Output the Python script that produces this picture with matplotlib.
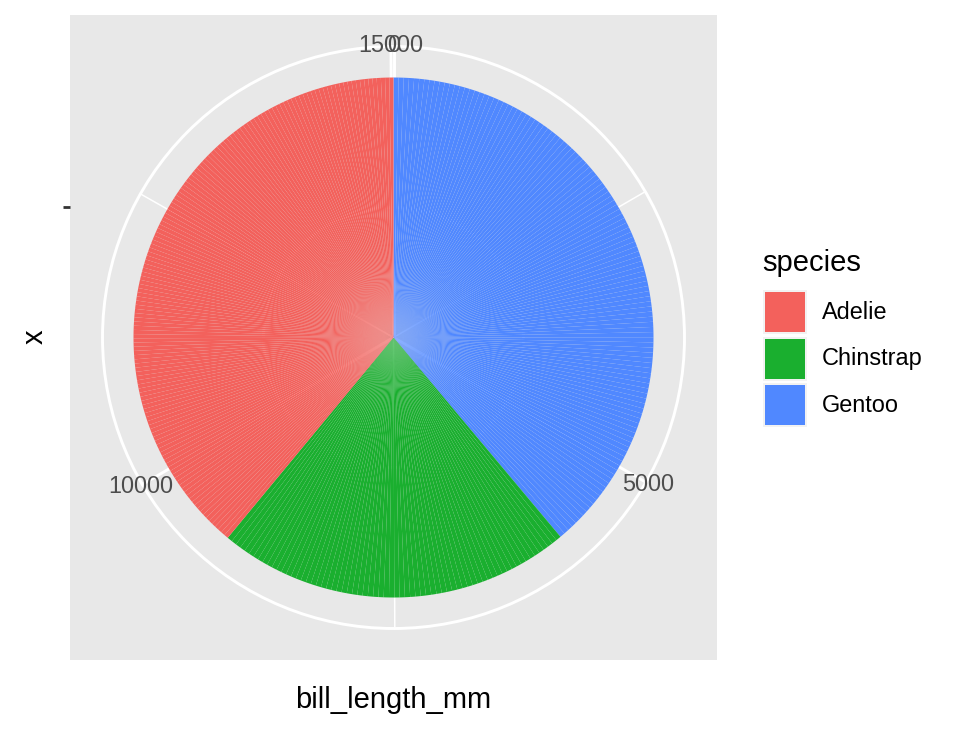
import matplotlib.pyplot as plt
from matplotlib.patches import Wedge, Circle, Rectangle
from matplotlib.lines import Line2D
import numpy as np

plt.rcParams['font.family'] = ['Liberation Sans', 'DejaVu Sans']

# penguins: number of birds and summed bill length per species
species = ['Adelie', 'Chinstrap', 'Gentoo']
counts = [151, 68, 123]
bill_length_sum = [5857.5, 3320.7, 5843.1]
colors = ['#F3615C', '#1AAF2F', '#5088FF']
theta_breaks = [0, 5000, 10000, 15000]
theta_minor = [2500, 7500, 12500]

W, H = 960, 729
fig = plt.figure(figsize=(9.6, 7.29), dpi=100)


def fx(px):
    return px / W


def fy(py):
    return 1 - py / H


# panel in pixel units, pie centred at 0,0
ax = fig.add_axes([fx(70), fy(660), fx(717) - fx(70), fy(15) - fy(660)])
ax.set_facecolor('#E8E8E8')
ax.set_xlim(-323.5, 323.5)
ax.set_ylim(-322.5, 322.5)
for s in ax.spines.values():
    s.set_visible(False)
ax.set_xticks([])
ax.set_yticks([])

R_PIE = 260
R_OUT = 291
total = sum(bill_length_sum)


def ang(v):
    # clockwise from north, in maths degrees
    return 90 - 360 * v / total


# grid
for v in theta_minor:
    a = np.radians(ang(v))
    ax.plot([0, R_OUT * np.cos(a)], [0, R_OUT * np.sin(a)], color='white', lw=1.1, zorder=1)
for v in theta_breaks:
    a = np.radians(ang(v))
    ax.plot([0, R_OUT * np.cos(a)], [0, R_OUT * np.sin(a)], color='white', lw=2.1, zorder=1)
ax.add_patch(Circle((0, 0), R_OUT, fill=False, ec='white', lw=2.1, zorder=1))
ax.add_patch(Circle((0, 0), R_PIE / 2, fill=False, ec='white', lw=2.1, zorder=1))

# stacked bars -> pie (Gentoo at the bottom of the stack)
cum = 0.0
for i in [2, 1, 0]:
    seg = bill_length_sum[i] / counts[i]
    for k in range(counts[i]):
        ax.add_patch(Wedge((0, 0), R_PIE, ang(cum + seg), ang(cum), fc=colors[i],
                           lw=0, antialiased=True, zorder=2))
        cum += seg

# theta labels
for v in theta_breaks:
    a = np.radians(ang(v))
    ax.text(293 * np.cos(a), 293 * np.sin(a) - 1, str(v), ha='center', va='center',
            fontsize=16.9, color='#4D4D4D', zorder=3)

# r axis tick (empty label)
fig.add_artist(Line2D([fx(63), fx(70)], [fy(207), fy(207)], color='#333333', lw=2.0,
                      solid_capstyle='butt'))

# axis titles
fig.text(fx(393.5), fy(700), 'bill_length_mm', ha='center', va='center', fontsize=21)
fig.text(fx(35), fy(337), 'x', ha='center', va='center', fontsize=21, rotation=90)

# legend
fig.text(fx(762), fy(263), 'species', ha='left', va='center', fontsize=21)
key_top = [290, 337, 383]
for i, sp in enumerate(species):
    t = key_top[i]
    fig.add_artist(Rectangle((fx(763), fy(t + 44)), fx(44), 44 / H, fc='#F2F2F2', ec='none'))
    fig.add_artist(Rectangle((fx(765), fy(t + 42)), fx(40), 40 / H, fc=colors[i], ec='none'))
    fig.text(fx(822), fy(t + 22), sp, ha='left', va='center', fontsize=16.9)

fig.savefig('out.png', dpi=100, facecolor='white')
